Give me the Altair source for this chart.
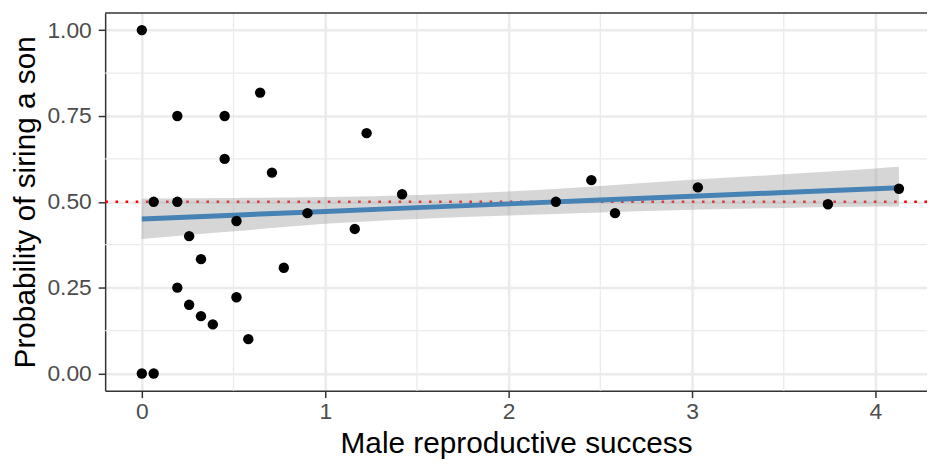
import altair as alt
import pandas as pd

# Data
rs = [0.0, 0.645, 0.1935, 0.4515, 1.2255, 0.4515, 0.7095, 1.419, 0.0645, 0.1935,
      0.516, 0.903, 1.161, 0.258, 0.3225, 0.774, 0.1935, 0.516, 0.258, 0.3225,
      0.387, 0.5805, 0.0, 0.0645, 2.2575, 2.451, 2.58, 3.0315, 3.741, 4.128]
p_son = [1.0, 0.818, 0.75, 0.75, 0.70, 0.625, 0.585, 0.522, 0.5, 0.5,
         0.444, 0.467, 0.421, 0.40, 0.333, 0.308, 0.25, 0.222, 0.20, 0.167,
         0.143, 0.10, 0.0, 0.0, 0.5, 0.563, 0.467, 0.542, 0.493, 0.538]

# Linear smoother and its confidence band
smooth_x = [0.0, 0.5, 1.0, 1.5, 2.0, 2.5, 3.0, 3.5, 4.0, 4.128]
smooth_fit = [0.450, 0.461, 0.472, 0.483, 0.494, 0.505, 0.516, 0.527, 0.538, 0.541]
smooth_lo = [0.392, 0.414, 0.436, 0.450, 0.460, 0.469, 0.477, 0.482, 0.486, 0.486]
smooth_hi = [0.509, 0.511, 0.514, 0.520, 0.530, 0.546, 0.564, 0.580, 0.597, 0.602]

x_ticks = [0, 1, 2, 3, 4]
y_ticks = [0.0, 0.25, 0.5, 0.75, 1.0]
x_minor = [0.5, 1.5, 2.5, 3.5]
y_minor = [0.125, 0.375, 0.625, 0.875]
ref_line = [0.5]

pts = pd.DataFrame({"rs": rs, "p": p_son})
band = pd.DataFrame({"rs": smooth_x, "fit": smooth_fit, "lo": smooth_lo, "hi": smooth_hi})

XT = "Male reproductive success"
YT = "Probability of siring a son"
xs = alt.Scale(domain=[-0.2, 4.281], nice=False, zero=False)
ys = alt.Scale(domain=[-0.05, 1.05], nice=False, zero=False)
xax = alt.Axis(values=x_ticks, format="d", labelPadding=3, titlePadding=5)
yax = alt.Axis(values=y_ticks, format=".2f", labelPadding=7, titlePadding=7)

def X(field):
    return alt.X(field, type="quantitative", scale=xs, axis=xax, title=XT)

def Y(field):
    return alt.Y(field, type="quantitative", scale=ys, axis=yax, title=YT)

GRID = "#ebebeb"

minor_x = alt.Chart(pd.DataFrame({"gx": x_minor})).mark_rule(
    color=GRID, strokeWidth=1.3).encode(x=X("gx"))
minor_y = alt.Chart(pd.DataFrame({"gy": y_minor})).mark_rule(
    color=GRID, strokeWidth=1.3).encode(y=Y("gy"))

hline = alt.Chart(pd.DataFrame({"h": ref_line})).mark_rule(
    color="red", strokeWidth=2.6, strokeDash=[2.6, 7.6]).encode(y=Y("h"))

area = alt.Chart(band).mark_area(color="#999999", opacity=0.4, interpolate="monotone").encode(
    x=X("rs"), y=Y("lo"), y2="hi")

line = alt.Chart(band).mark_line(color="#4682B4", strokeWidth=5).encode(
    x=X("rs"), y=Y("fit"))

points = alt.Chart(pts).mark_circle(size=110, color="black", opacity=1).encode(
    x=X("rs"), y=Y("p"))

top_border = alt.Chart(pd.DataFrame({"t": [0]})).mark_rule(
    color="#333333", strokeWidth=1.5).encode(y=alt.value(0))

chart = alt.layer(minor_x, minor_y, hline, area, line, points, top_border).properties(
    width=829, height=381,
    autosize=alt.AutoSizeParams(type="none"),
    padding={"left": 98, "top": 3, "right": 0, "bottom": 73},
).configure_view(stroke=None).configure_axis(
    grid=True, gridColor=GRID, gridWidth=2.6,
    domainColor="#333333", domainWidth=1.5,
    tickColor="#333333", tickWidth=1.5, tickSize=7,
    labelColor="#4d4d4d", labelFontSize=23, labelFont="Liberation Sans",
    titleColor="black", titleFontSize=30, titleFont="Liberation Sans",
    titleFontWeight="normal",
)

chart.save("out.html", embed_options={"renderer": "svg", "actions": False})
